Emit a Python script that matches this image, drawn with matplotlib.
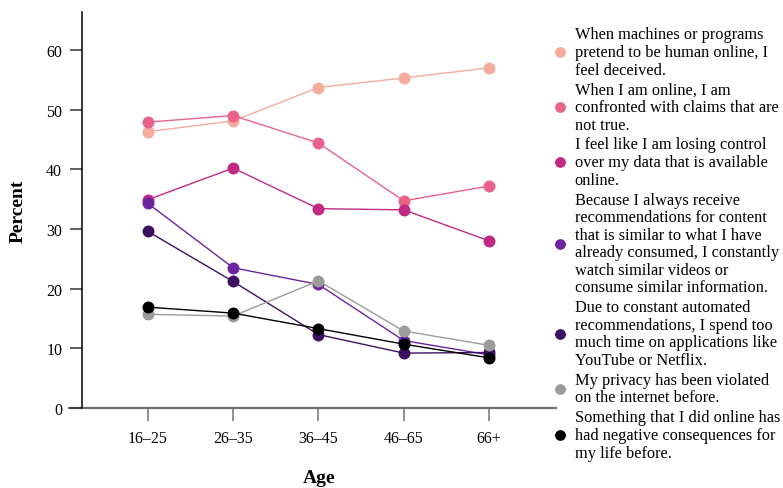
#Percent of respondents agreeing with statements, by age group
import numpy as np
import matplotlib.pyplot as plt

plt.rcParams['font.family'] = ['Liberation Serif', 'DejaVu Serif']

#Data
idades = ['16–25', '26–35', '36–45', '46–65', '66+']

maquinas = [46.3, 48.1, 53.7, 55.3, 57.0]
alegacoes = [47.9, 49.0, 44.4, 34.7, 37.2]
controle = [34.9, 40.2, 33.4, 33.2, 28.0]
recomendacoes = [34.3, 23.5, 20.7, 11.3, 8.9]
tempo = [29.6, 21.2, 12.3, 9.2, 9.3]
privacidade = [15.7, 15.4, 21.3, 12.9, 10.5]
consequencias = [16.9, 15.9, 13.3, 10.7, 8.4]

rotulos = [
    'When machines or programs\npretend to be human online, I\nfeel deceived.',
    'When I am online, I am\nconfronted with claims that are\nnot true.',
    'I feel like I am losing control\nover my data that is available\nonline.',
    'Because I always receive\nrecommendations for content\nthat is similar to what I have\nalready consumed, I constantly\nwatch similar videos or\nconsume similar information.',
    'Due to constant automated\nrecommendations, I spend too\nmuch time on applications like\nYouTube or Netflix.',
    'My privacy has been violated\non the internet before.',
    'Something that I did online has\nhad negative consequences for\nmy life before.',
]
series = [maquinas, alegacoes, controle, recomendacoes, tempo, privacidade, consequencias]
cores = ['#F3AC9B', '#E8628A', '#C02A83', '#6B23A0', '#3D1161', '#9B9B9B', '#000000']

fig = plt.figure(figsize=(7.83, 4.89), dpi=100)
ax = fig.add_axes([0.1043, 0.1636, 0.6054, 0.8104])

x = np.arange(len(idades))
for valores, rotulo, cor in zip(series, rotulos, cores):
    ax.plot(x, valores, color=cor, lw=1.0, marker='o', markersize=8.6,
            markeredgewidth=0, label=rotulo)

ax.set_xlim(-0.774, 4.78)
ax.set_ylim(0, 66.4)
ax.set_xticks(x)
ax.set_xticklabels(idades)
ax.set_yticks([0, 10, 20, 30, 40, 50, 60])

#Eixos
for lado in ['top', 'right', 'bottom']:
    ax.spines[lado].set_visible(False)
ax.spines['left'].set_linewidth(1.1)
ax.axhline(0, xmin=-0.027, xmax=1, color='#707070', lw=1.6, clip_on=False, zorder=0)
ax.tick_params(axis='x', length=9.5, width=1.1, color='#707070', pad=6, labelsize=11.5)
ax.tick_params(axis='y', length=9, width=1.1, color='#333333', pad=5, labelsize=11.5)

ax.set_xlabel('Age', fontsize=14, fontweight='bold', labelpad=17)
ax.set_ylabel('Percent', fontsize=14, fontweight='bold', labelpad=14)

leg = fig.legend(loc='upper left', bbox_to_anchor=(0.709, 0.944), frameon=False,
                 fontsize=11.8, handlelength=0.6, handletextpad=0.6, labelspacing=0.24,
                 markerscale=0.9, borderpad=0, borderaxespad=0)
for t in leg.get_texts():
    t.set_linespacing(1.13)

plt.savefig('out.png', dpi=100)
